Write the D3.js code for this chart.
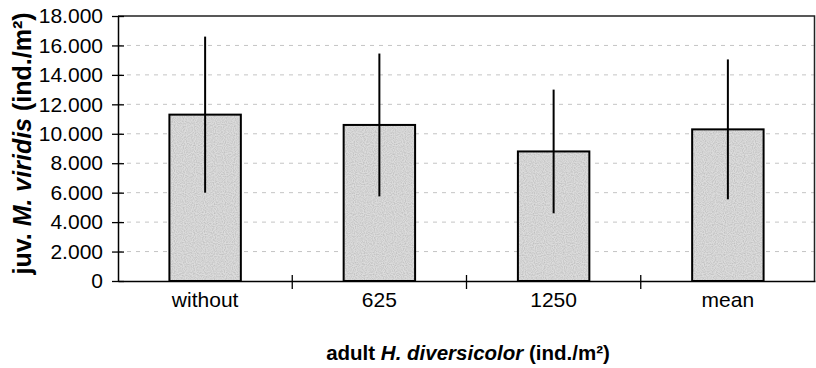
<!DOCTYPE html>
<html>
<head>
<meta charset="utf-8">
<script src="https://cdn.jsdelivr.net/npm/d3@7"></script>
<style>
  body { margin: 0; background: #fff; }
  svg text { font-family: "Liberation Sans", Arial, sans-serif; fill: #000; }
</style>
</head>
<body>
<svg id="chart" width="816" height="368"></svg>
<script>
// data
const categories = ["without", "625", "1250", "mean"];
const means = [11300, 10600, 8800, 10300];
const errors = [5300, 4850, 4200, 4750];
const yTicks = [0, 2000, 4000, 6000, 8000, 10000, 12000, 14000, 16000, 18000];

const svg = d3.select("#chart");
const margin = { left: 118, right: 1, top: 16, bottom: 87 };
const width = 816, height = 368;

const x = d3.scaleBand()
  .domain(categories)
  .range([margin.left, width - margin.right])
  .paddingInner(0.59)
  .paddingOuter(0.295);

const xb = d3.scaleBand() // category tick positions
  .domain(categories)
  .range([margin.left, width - margin.right]);

const y = d3.scaleLinear()
  .domain([0, 18000])
  .range([height - margin.bottom, margin.top]);

const fmt = d => d === 0 ? "0" : d3.format(",")(d).replace(",", ".");

// speckled fill like the scan
const defs = svg.append("defs");
const filt = defs.append("filter").attr("id", "speckle")
  .attr("x", 0).attr("y", 0).attr("width", 1).attr("height", 1);
filt.append("feTurbulence").attr("type", "fractalNoise")
  .attr("baseFrequency", 0.9).attr("numOctaves", 1).attr("seed", 3).attr("result", "n");
filt.append("feColorMatrix").attr("in", "n").attr("type", "matrix")
  .attr("values", "0 0 0 0 0  0 0 0 0 0  0 0 0 0 0  0 0 0 -1.6 1.05")
  .attr("result", "dots");
filt.append("feComposite").attr("in", "dots").attr("in2", "SourceGraphic")
  .attr("operator", "in").attr("result", "d2");
filt.append("feComponentTransfer").attr("in", "d2").attr("result", "d3")
  .append("feFuncA").attr("type", "linear").attr("slope", 0.35);
const merge = filt.append("feMerge");
merge.append("feMergeNode").attr("in", "SourceGraphic");
merge.append("feMergeNode").attr("in", "d3");

// gridlines (faint, dotted like the scan)
svg.append("g")
  .selectAll("line")
  .data(yTicks.filter(d => d > 0 && d < 18000))
  .join("line")
  .attr("x1", margin.left)
  .attr("x2", width - margin.right)
  .attr("y1", d => y(d))
  .attr("y2", d => y(d))
  .attr("stroke", "#c4c4c4")
  .attr("stroke-width", 1)
  .attr("stroke-dasharray", "4,5");

// plot frame (top and right)
svg.append("path")
  .attr("d", `M${margin.left},${y(18000)}H${width - margin.right - 0.5}V${y(0)}`)
  .attr("fill", "none")
  .attr("stroke", "#222")
  .attr("stroke-width", 1.5);

// bars
svg.append("g")
  .selectAll("rect")
  .data(means)
  .join("rect")
  .attr("x", (d, i) => x(categories[i]))
  .attr("width", x.bandwidth())
  .attr("y", d => y(d))
  .attr("height", d => y(0) - y(d))
  .attr("fill", "#dcdcdc")
  .attr("filter", "url(#speckle)");

svg.append("g")
  .selectAll("rect")
  .data(means)
  .join("rect")
  .attr("x", (d, i) => x(categories[i]))
  .attr("width", x.bandwidth())
  .attr("y", d => y(d))
  .attr("height", d => y(0) - y(d))
  .attr("fill", "none")
  .attr("stroke", "#000")
  .attr("stroke-width", 2);

// error bars
svg.append("g")
  .selectAll("line")
  .data(means)
  .join("line")
  .attr("x1", (d, i) => x(categories[i]) + x.bandwidth() / 2)
  .attr("x2", (d, i) => x(categories[i]) + x.bandwidth() / 2)
  .attr("y1", (d, i) => y(d - errors[i]))
  .attr("y2", (d, i) => y(d + errors[i]))
  .attr("stroke", "#000")
  .attr("stroke-width", 2);

// y axis
const yAxis = svg.append("g")
  .attr("transform", `translate(${margin.left},0)`)
  .call(d3.axisLeft(y).tickValues(yTicks).tickFormat(fmt).tickSize(6).tickSizeOuter(0));
yAxis.select(".domain").attr("stroke", "#000").attr("stroke-width", 1.5);
yAxis.selectAll(".tick line").attr("x1", -6).attr("x2", 6).attr("stroke-width", 1.3);
yAxis.selectAll(".tick text")
  .attr("x", -15)
  .style("font-size", "21px");

// x axis
const xAxis = svg.append("g")
  .attr("transform", `translate(0,${y(0)})`)
  .call(d3.axisBottom(x).tickSize(0).tickSizeOuter(0));
xAxis.select(".domain").attr("stroke", "#000").attr("stroke-width", 1.5);
xAxis.selectAll(".tick text")
  .attr("y", 11)
  .attr("dy", "0.71em")
  .style("font-size", "21px");

// category separator ticks
svg.append("g")
  .selectAll("line")
  .data(categories.slice(1))
  .join("line")
  .attr("x1", d => xb(d))
  .attr("x2", d => xb(d))
  .attr("y1", y(0) - 6)
  .attr("y2", y(0) + 8)
  .attr("stroke", "#000")
  .attr("stroke-width", 1.3);

// axis titles
const yt = svg.append("text")
  .attr("transform", `translate(31,${(margin.top + y(0)) / 2 - 5}) rotate(-90)`)
  .attr("text-anchor", "middle")
  .style("font-size", "25px")
  .style("font-weight", "bold");
yt.append("tspan").text("juv. ");
yt.append("tspan").style("font-style", "italic").text("M. viridis");
yt.append("tspan").text(" (ind./m²)");

const xt = svg.append("text")
  .attr("x", 468)
  .attr("y", 360)
  .attr("text-anchor", "middle")
  .style("font-size", "20.5px")
  .style("font-weight", "bold");
xt.append("tspan").text("adult ");
xt.append("tspan").style("font-style", "italic").text("H. diversicolor");
xt.append("tspan").text(" (ind./m²)");
</script>
</body>
</html>
